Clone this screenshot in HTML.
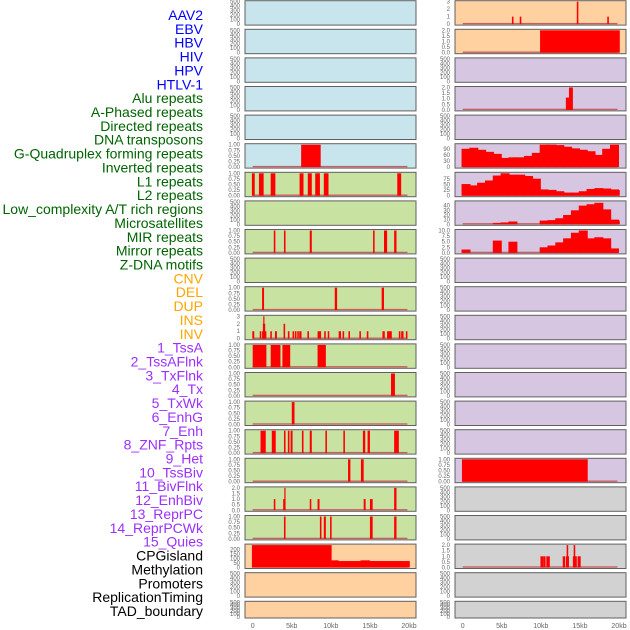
<!DOCTYPE html>
<html><head><meta charset="utf-8">
<style>
body{margin:0;background:#fff;width:630px;height:630px;overflow:hidden;font-family:"Liberation Sans",sans-serif}
svg{position:absolute;left:0;top:0}
</style></head>
<body>
<svg id="chart" width="630" height="630"></svg>
<script>
// ---- labels ----
const trackLabels = ["AAV2","EBV","HBV","HIV","HPV","HTLV-1","Alu repeats","A-Phased repeats","Directed repeats","DNA transposons","G-Quadruplex forming repeats","Inverted repeats","L1 repeats","L2 repeats","Low_complexity A/T rich regions","Microsatellites","MIR repeats","Mirror repeats","Z-DNA motifs","CNV","DEL","DUP","INS","INV","1_TssA","2_TssAFlnk","3_TxFlnk","4_Tx","5_TxWk","6_EnhG","7_Enh","8_ZNF_Rpts","9_Het","10_TssBiv","11_BivFlnk","12_EnhBiv","13_ReprPC","14_ReprPCWk","15_Quies","CPGisland","Methylation","Promoters","ReplicationTiming","TAD_boundary"];
const labelColors = ["#0000ff","#0000ff","#0000ff","#0000ff","#0000ff","#0000ff","#006400","#006400","#006400","#006400","#006400","#006400","#006400","#006400","#006400","#006400","#006400","#006400","#006400","#ffa500","#ffa500","#ffa500","#ffa500","#ffa500","#9b30ff","#9b30ff","#9b30ff","#9b30ff","#9b30ff","#9b30ff","#9b30ff","#9b30ff","#9b30ff","#9b30ff","#9b30ff","#9b30ff","#9b30ff","#9b30ff","#9b30ff","#000","#000","#000","#000","#000"];
const xTicks = [0,5,10,15,20];
const xTickLabels = ["0","5kb","10kb","15kb","20kb"];

// ---- left column segments [startKb, endKb, value] ----
const segL6 = [[6.2,8.7,1]];
const segL7 = [[-0.1,0.26,1],[0.8,1.4,1],[2.3,2.9,1],[6.0,6.5,1],[7.05,7.56,1],[8.0,8.6,1],[9.1,9.7,1],[18.5,19.0,1]];
const segL9 = [[2.7,2.9,1],[4.0,4.2,1],[7.3,7.56,1],[15.4,15.6,1],[16.8,17.2,1],[18.1,18.4,1]];
const segL11 = [[1.2,1.45,1],[10.5,10.8,1],[16.5,16.8,1]];
const segL12 = [[-0.05,0.2,1],[0.9,1.1,1],[1.2,1.75,1],[1.3,1.6,2],[1.35,1.5,3],[2.25,2.45,1],[2.85,3.1,1],[3.95,4.15,2],[4.5,4.7,1],[5.1,5.3,1],[5.4,5.6,1],[5.7,5.9,1],[5.95,6.25,1],[7.0,7.2,1],[8.3,8.75,1],[9.15,9.35,1],[9.6,9.8,1],[11.0,11.3,1],[11.5,11.7,1],[12.25,12.45,1],[13.65,13.85,1],[14.6,14.8,1],[16.6,16.9,1],[17.2,17.8,1],[18.7,18.9,1],[19.0,19.3,1],[19.6,19.8,1]];
const segL13 = [[0,1.75,1],[2.3,3.55,1],[3.8,4.8,1],[8.3,9.36,1]];
const segL14 = [[17.7,18.2,1]];
const segL15 = [[5.0,5.35,1]];
const segL16 = [[1.0,1.67,1],[2.44,2.95,1],[4.0,4.2,1],[4.5,4.7,1],[4.85,5.1,1],[6.3,6.5,1],[7.3,7.56,1],[9.3,9.5,1],[11.6,11.8,1],[14.1,14.4,1],[14.7,15.0,1],[18.1,18.7,1]];
const segL17 = [[12.2,12.5,1],[13.85,14.2,1]];
const segL18 = [[2.7,2.9,1],[3.9,4.2,1],[4.05,4.2,2],[7.3,7.5,1],[8.3,8.55,1],[14.2,14.45,1],[15.0,15.35,1],[18.1,18.4,2]];
const segL19 = [[4.0,4.2,1],[8.6,8.8,1],[9.1,9.36,1],[9.9,10.1,1],[15.0,15.35,1],[18.1,18.4,1]];
const segL20 = [[-0.1,10.1,250],[10.1,20.1,72],[10.1,11.0,80],[13.8,15.0,80]];

// ---- right column ----
const segR1 = [[6.3,6.5,1],[7.3,7.5,1],[14.6,14.8,3],[18.5,18.7,1]];
const segR2 = [[9.9,20.1,2]];
const segR4 = [[13.2,13.6,1.1],[13.6,14.1,2]];
const binsR6 = [90,95,85,75,65,45,48,48,55,70,110,110,108,100,92,85,78,60,90,110];
const binsR7 = [52,46,58,68,90,100,94,94,88,76,28,26,20,14,14,20,30,34,32,28,25];
const binsR8 = [0,0,0,0,3,4,6,0,0,0,8,9,13,20,30,40,43,46,32,10,8];
const binsR9 = [1.5,0,0,0,5.5,0,5,0,0,0,2.5,3.3,4.7,6.5,9,10,6.5,7,6.5,2,0];
const segR17 = [[-0.1,16.0,1]];
const segR20 = [[9.95,10.3,1],[10.3,10.6,1],[10.7,11.15,1],[12.8,13.1,1],[13.2,13.6,1],[13.3,13.5,2],[14.1,14.6,1],[14.2,14.4,2],[14.7,15.1,1]];

const emptyTicks = [0,100,200,300,400,500];
const panelsL = [
 {bg:"#c8e4ec"},{bg:"#c8e4ec"},{bg:"#c8e4ec"},{bg:"#c8e4ec"},{bg:"#c8e4ec"},
 {bg:"#c8e4ec",seg:segL6,max:1,ticks:[0,0.25,0.5,0.75,1],fmt:2},
 {bg:"#c8e2a2",seg:segL7,max:1,ticks:[0,0.25,0.5,0.75,1],fmt:2},
 {bg:"#c8e2a2"},
 {bg:"#c8e2a2",seg:segL9,max:1,ticks:[0,0.25,0.5,0.75,1],fmt:2},
 {bg:"#c8e2a2"},
 {bg:"#c8e2a2",seg:segL11,max:1,ticks:[0,0.25,0.5,0.75,1],fmt:2},
 {bg:"#c8e2a2",seg:segL12,max:3,ticks:[0,1,2,3],fmt:0},
 {bg:"#c8e2a2",seg:segL13,max:1,ticks:[0,0.25,0.5,0.75,1],fmt:2},
 {bg:"#c8e2a2",seg:segL14,max:1,ticks:[0,0.25,0.5,0.75,1],fmt:2},
 {bg:"#c8e2a2",seg:segL15,max:1,ticks:[0,0.25,0.5,0.75,1],fmt:2},
 {bg:"#c8e2a2",seg:segL16,max:1,ticks:[0,0.25,0.5,0.75,1],fmt:2},
 {bg:"#c8e2a2",seg:segL17,max:1,ticks:[0,0.25,0.5,0.75,1],fmt:2},
 {bg:"#c8e2a2",seg:segL18,max:2,ticks:[0,0.5,1,1.5,2],fmt:1},
 {bg:"#c8e2a2",seg:segL19,max:1,ticks:[0,0.25,0.5,0.75,1],fmt:2},
 {bg:"#ffd1a0",seg:segL20,max:250,ticks:[0,50,100,150,200],fmt:0},
 {bg:"#ffd1a0"},{bg:"#ffd1a0"}
];
const LAV="#d6c6e2", GRY="#d2d2d2";
const panelsR = [
 {bg:"#ffd1a0",seg:segR1,max:3,ticks:[0,1,2,3],fmt:0},
 {bg:"#ffd1a0",seg:segR2,max:2,ticks:[0,0.5,1,1.5,2],fmt:1},
 {bg:LAV},
 {bg:LAV,seg:segR4,max:2,ticks:[0,0.5,1,1.5,2],fmt:1},
 {bg:LAV},
 {bg:LAV,bins:binsR6,max:110,ticks:[0,30,60,90],fmt:0},
 {bg:LAV,bins:binsR7,max:100,ticks:[0,25,50,75],fmt:0},
 {bg:LAV,bins:binsR8,max:48,ticks:[0,10,20,30,40],fmt:0},
 {bg:LAV,bins:binsR9,max:10,ticks:[0,2.5,5,7.5,10],fmt:1},
 {bg:LAV},{bg:LAV},{bg:LAV},{bg:LAV},{bg:LAV},{bg:LAV},{bg:LAV},
 {bg:LAV,seg:segR17,max:1,ticks:[0,0.25,0.5,0.75,1],fmt:2},
 {bg:GRY},{bg:GRY},
 {bg:GRY,seg:segR20,max:2,ticks:[0,0.5,1,1.5,2],fmt:1},
 {bg:GRY},{bg:GRY}
];

const NS="http://www.w3.org/2000/svg";
const svg=document.getElementById('chart');
function mk(tag,attrs,parent){const e=document.createElementNS(NS,tag);for(const k in attrs)e.setAttribute(k,attrs[k]);(parent||svg).appendChild(e);return e;}

// labels
trackLabels.forEach((t,i)=>{
  const e=mk('text',{x:203,y:15+i*13.86+5,'text-anchor':'end','font-size':'14',fill:labelColors[i]});
  e.textContent=t;
  
  
});

function drawPanel(p,col,row){
  const x0=col===0?245:455, w=171;
  const zero=col===0?252.7:462.7, pxPerKb=7.815;
  const xs=kb=>zero+kb*pxPerKb;
  const top=0.7+row*28.6, h=row===21?16.7:24.4;
  const g=mk('g',{});
  
  
  mk('rect',{x:x0,y:top,width:w,height:h,fill:p.bg,stroke:'#606060','stroke-width':1},g);
  const max=p.max||500, ticks=p.ticks||emptyTicks, fmt=p.fmt||0;
  const ys=v=>top+h-1-v/max*(h-2);
  ticks.forEach(t=>{
    const e=mk('text',{x:x0-5,y:ys(t)+2,'text-anchor':'end','font-size':'6',fill:'#666'},g);
    e.textContent=t.toFixed(fmt);
    
    
  });
  if(p.seg||p.bins){
    const bl=mk('rect',{x:xs(0),y:top+h-2.2,width:xs(19.8)-xs(0),height:1.4,fill:'#c86060'},g);
    
    
  }
  if(p.seg){
    p.seg.forEach(s=>{
      const r=mk('rect',{x:xs(s[0]),y:ys(s[2]),width:Math.max(1.2,xs(s[1])-xs(s[0])),height:ys(0)-ys(s[2]),fill:'#ff0000'},g);
      
      
    });
  }
  if(p.bins){
    p.bins.forEach((v,k)=>{
      if(v<=0)return;
      const e1=Math.min(k+1,20.1);
      const r=mk('rect',{x:xs(k-0.15),y:ys(v),width:xs(e1)-xs(k-0.15),height:ys(0)-ys(v),fill:'#ff0000'},g);
      
      
    });
  }
}
panelsL.forEach((p,i)=>drawPanel(p,0,i));
panelsR.forEach((p,i)=>drawPanel(p,1,i));

// x axes
[252.7,462.7].forEach(z=>{
  xTicks.forEach((t,i)=>{
    const e=mk('text',{x:z+t*7.815,y:628,'text-anchor':'middle','font-size':'7',fill:'#666'});
    e.textContent=xTickLabels[i];
    
    
  });
});
</script>
</body></html>
